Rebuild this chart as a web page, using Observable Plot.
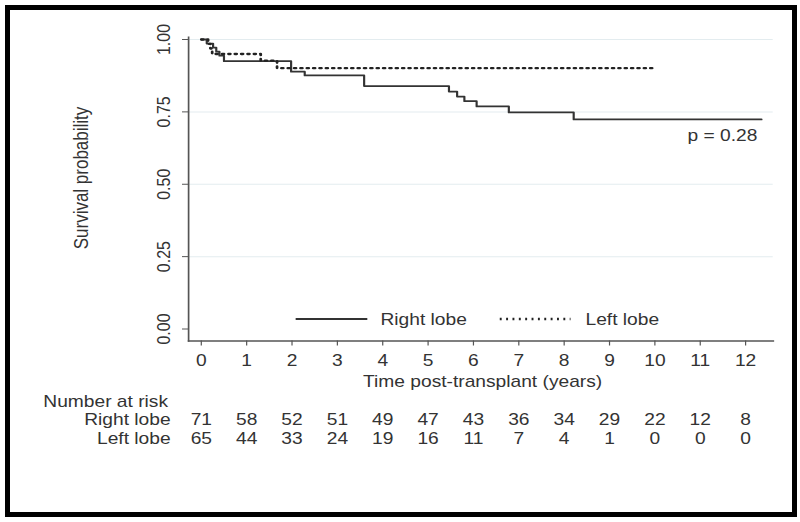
<!DOCTYPE html>
<html><head><meta charset="utf-8">
<script src="https://cdn.jsdelivr.net/npm/d3@7"></script>
<script src="https://cdn.jsdelivr.net/npm/@observablehq/plot@0.6"></script>
<style>
html,body{margin:0;padding:0;background:#fff;}
#wrap{position:relative;width:800px;height:522px;overflow:hidden;background:#fff;}
#border{position:absolute;left:5px;top:5px;width:792px;height:512px;box-sizing:border-box;border:5px solid #000;pointer-events:none;}
#chart svg{display:block;}
</style></head><body>
<div id="wrap"><div id="chart"></div><div id="border"></div></div>
<script>
// ---- data ----
const groups = ["Right lobe", "Left lobe"];
const timeTicks = [0, 1, 2, 3, 4, 5, 6, 7, 8, 9, 10, 11, 12];
const yTicks = [0, 0.25, 0.5, 0.75, 1];
const yGrid = [0.25, 0.5, 0.75, 1];
const rightTimes = [0, 0.12, 0.26, 0.33, 0.40, 0.50, 1.98, 2.28, 3.59, 5.46, 5.64, 5.80, 6.07, 6.78, 8.21, 12.35];
const rightSurv  = [1, 0.986, 0.972, 0.958, 0.944, 0.925, 0.889, 0.876, 0.839, 0.820, 0.803, 0.787, 0.769, 0.748, 0.724, 0.724];
const leftTimes = [0, 0.15, 0.20, 0.24, 1.31, 1.67, 9.94];
const leftSurv  = [1, 0.985, 0.969, 0.950, 0.927, 0.901, 0.901];
const riskRight = [71, 58, 52, 51, 49, 47, 43, 36, 34, 29, 22, 12, 8];
const riskLeft  = [65, 44, 33, 24, 19, 16, 11, 7, 4, 1, 0, 0, 0];
const pLabel = "p = 0.28";

const rightData = rightTimes.map((t, i) => ({time: t, surv: rightSurv[i]}));
const leftData = leftTimes.map((t, i) => ({time: t, surv: leftSurv[i]}));

// ---- layout ----
const SX = 1.2;            // horizontal stretch of the original rendering
const W = 800 / SX, H = 522;
const px = v => v / SX;
const frameBottom = 340.5;
const dotted = "1.6 3.7";

const plot = Plot.plot({
  width: W, height: H,
  marginLeft: px(188), marginRight: W - px(772.7), marginTop: 36.7, marginBottom: H - frameBottom,
  x: {domain: [0, 12], range: [px(200.7), px(745)]},
  y: {domain: [0, 1], range: [328.5, 39]},
  style: {fontFamily: "'Liberation Sans', Arial, sans-serif", fontSize: "16px", color: "#333", background: "white", overflow: "visible"},
  marks: [
    Plot.gridY(yGrid, {stroke: "#e3ecef", strokeOpacity: 1, strokeWidth: 1}),
    Plot.frame({anchor: "left", stroke: "#555", strokeWidth: 1.4}),
    Plot.frame({anchor: "bottom", stroke: "#555", strokeWidth: 1.4}),
    Plot.axisY({ticks: yTicks, tickSize: 5, tickFormat: () => "", stroke: "#555", label: null}),
    Plot.text(yTicks, {y: d => d, text: d => d3.format(".2f")(d), frameAnchor: "left", dx: px(163) - px(188), rotate: -90, textAnchor: "middle", lineAnchor: "middle", fill: "#333"}),
    Plot.axisX({ticks: timeTicks, tickSize: 5, tickPadding: 9, tickFormat: d => String(d), stroke: "#555", fill: "#333", label: null}),
    Plot.text(["Time post-transplant (years)"], {frameAnchor: "bottom", dx: px(1.7), dy: 381 - frameBottom, lineAnchor: "middle", fill: "#333"}),
    Plot.text(["Survival probability"], {frameAnchor: "left", dx: px(81) - px(188), dy: 177.5 - (36.7 + frameBottom) / 2, rotate: -90, textAnchor: "middle", lineAnchor: "middle", fontSize: 17, fill: "#333"}),
    // curves
    Plot.line(rightData, {x: "time", y: "surv", curve: "step-after", stroke: "#333", strokeWidth: 1.8}),
    Plot.line(leftData, {x: "time", y: "surv", curve: "step-after", stroke: "#222", strokeWidth: 2.3, strokeDasharray: dotted}),
    // legend
    Plot.link([groups[0]], {x1: 2.08, x2: 3.66, y1: 0.0345, y2: 0.0345, stroke: "#333", strokeWidth: 1.8}),
    Plot.text([groups[0]], {x: 3.95, y: 0.033, text: d => d, textAnchor: "start", lineAnchor: "middle", fill: "#333"}),
    Plot.link([groups[1]], {x1: 6.58, x2: 8.14, y1: 0.0345, y2: 0.0345, stroke: "#222", strokeWidth: 2.3, strokeDasharray: dotted}),
    Plot.text([groups[1]], {x: 8.47, y: 0.033, text: d => d, textAnchor: "start", lineAnchor: "middle", fill: "#333"}),
    // p value
    Plot.text([pLabel], {x: 12.26, y: 0.667, text: d => d, textAnchor: "end", lineAnchor: "middle", fill: "#333"}),
    // number at risk table
    Plot.text(["Number at risk"], {frameAnchor: "bottom-left", dx: px(42.7) - px(188), dy: 401 - frameBottom, textAnchor: "start", lineAnchor: "middle", fill: "#333"}),
    Plot.text([groups[0]], {frameAnchor: "bottom-left", dx: px(170) - px(188), dy: 419 - frameBottom, textAnchor: "end", lineAnchor: "middle", fill: "#333"}),
    Plot.text([groups[1]], {frameAnchor: "bottom-left", dx: px(170) - px(188), dy: 438 - frameBottom, textAnchor: "end", lineAnchor: "middle", fill: "#333"}),
    Plot.text(timeTicks, {x: d => d, text: (d, i) => String(riskRight[i]), frameAnchor: "bottom", dy: 419 - frameBottom, lineAnchor: "middle", fill: "#333"}),
    Plot.text(timeTicks, {x: d => d, text: (d, i) => String(riskLeft[i]), frameAnchor: "bottom", dy: 438 - frameBottom, lineAnchor: "middle", fill: "#333"})
  ]
});

plot.setAttribute("width", 800);
plot.setAttribute("height", H);
plot.setAttribute("viewBox", `0 0 ${W} ${H}`);
plot.setAttribute("preserveAspectRatio", "none");
plot.style.width = "800px";
plot.style.height = H + "px";
plot.style.maxWidth = "none";
document.getElementById("chart").appendChild(plot);
</script>
</body></html>
